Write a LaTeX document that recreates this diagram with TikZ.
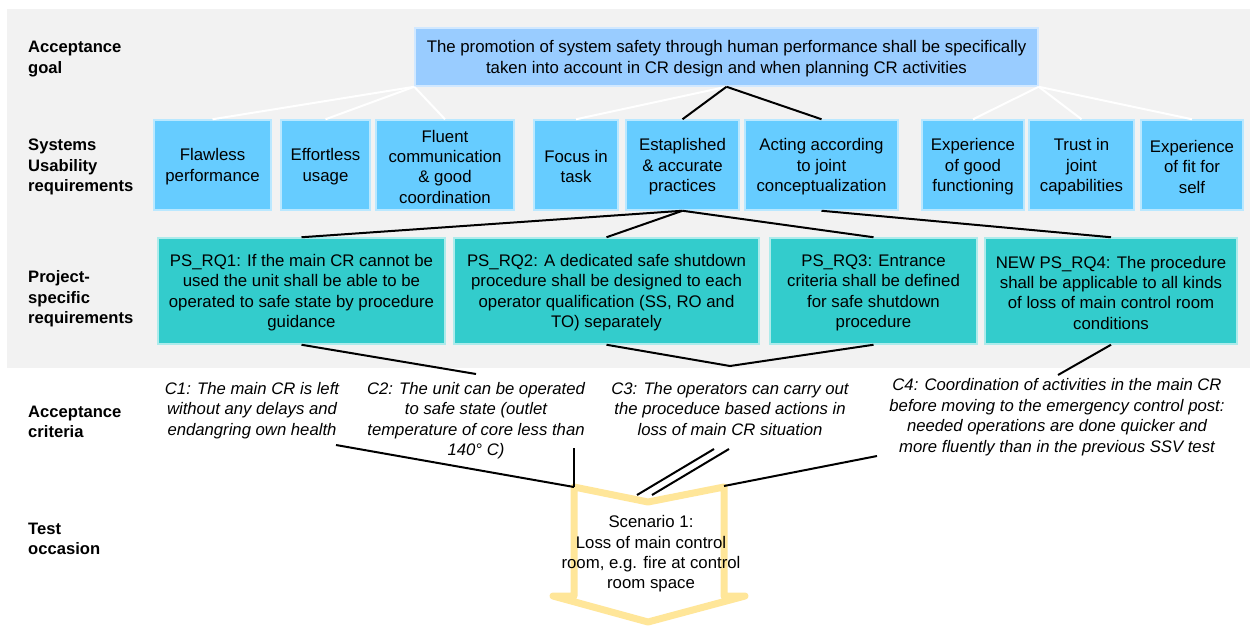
\documentclass[tikz,border=0pt]{standalone}
\usepackage{fontspec}
\setmainfont{Liberation Sans}
\usetikzlibrary{calc}

\definecolor{panel}{HTML}{F2F2F2}
\definecolor{goalfill}{HTML}{99CCFF}
\definecolor{usefill}{HTML}{66CCFF}
\definecolor{psfill}{HTML}{33CCCC}
\definecolor{scenario}{HTML}{FFE699}

\tikzset{
  txt/.style={font=\fontsize{16.8}{20.3}\selectfont, align=center, inner sep=0pt},
  lbl/.style={font=\fontsize{16.6}{20.3}\selectfont\bfseries, align=left, inner sep=0pt, anchor=west, yshift=-2pt},
  crit/.style={font=\fontsize{16.7}{20.5}\selectfont\itshape, align=center, inner sep=2pt},
  goalbox/.style={fill=goalfill, draw=white!55!goalfill, line width=1.5pt, inner sep=0pt},
  usebox/.style={fill=usefill, draw=white!55!usefill, line width=1.5pt, inner sep=0pt},
  psbox/.style={fill=psfill, draw=white!60!psfill, line width=1.5pt, inner sep=0pt},
  wline/.style={draw=white, line width=2pt},
  bline/.style={draw=black, line width=2pt},
  chevron/.style={draw=scenario, line width=7pt, line join=round, line cap=round},
}

% box given by its corners, with its text set on top: name, style, x1, y1, x2, y2, text
\newcommand\cornerbox[7]{%
  \node[#2, minimum width={(#5-#3)*1pt}, minimum height={(#6-#4)*1pt}]
    (#1) at ({(#3+#5)/2},{(#4+#6)/2}) {};
  \node[txt, yshift=-1.8pt] (#1-t) at (#1.center) {#7};}

\begin{document}
\begin{tikzpicture}[x=1pt,y=-1pt]
\useasboundingbox (0,0) rectangle (1250,629);
\fill[white] (0,0) rectangle (1250,629);

% shaded panel behind the upper three levels
\fill[panel] (7,9) rectangle (1250,368);

% row labels
\node[lbl] (lgoal) at (28,57) {Acceptance\\goal};
\node[lbl] (luse) at (28,165) {Systems\\Usability\\requirements};
\node[lbl] (lps) at (28,297) {Project-\\specific\\requirements};
\node[lbl] (lcrit) at (28,420) {Acceptance\\criteria};
\node[lbl] (ltest) at (28,537) {Test\\occasion};

% acceptance goal
\cornerbox{goal}{goalbox}{415}{28}{1038}{86}{The promotion of system safety through human performance shall be specifically\\taken into account in CR design and when planning CR activities}

% systems usability requirements
\cornerbox{flaw}{usebox}{154}{120}{271}{210}{Flawless\\performance}
\cornerbox{effort}{usebox}{281}{120}{370}{210}{Effortless\\usage}
\cornerbox{fluent}{usebox}{376}{120}{514}{210}{Fluent\\communication\\\& good\\coordination}
\cornerbox{focus}{usebox}{534}{120}{618}{210}{Focus in\\task}
\cornerbox{estab}{usebox}{626}{120}{739}{210}{Estaplished\\\& accurate\\practices}
\cornerbox{acting}{usebox}{745}{120}{898}{210}{Acting according\\to joint\\conceptualization}
\cornerbox{expgood}{usebox}{922}{120}{1024}{210}{Experience\\of good\\functioning}
\cornerbox{trust}{usebox}{1029}{120}{1134}{210}{Trust in\\joint\\capabilities}
\cornerbox{expfit}{usebox}{1141}{120}{1243}{210}{Experience\\of fit for\\self}

% project-specific requirements
\cornerbox{rq1}{psbox}{158}{238}{445}{344}{PS\_RQ1: If the main CR cannot be\\used the unit shall be able to be\\operated to safe state by procedure\\guidance}
\cornerbox{rq2}{psbox}{454}{238}{759}{344}{PS\_RQ2: A dedicated safe shutdown\\procedure shall be designed to each\\operator qualification (SS, RO and\\TO) separately}
\cornerbox{rq3}{psbox}{770}{238}{977}{344}{PS\_RQ3: Entrance\\criteria shall be defined\\for safe shutdown\\procedure}
\cornerbox{rq4}{psbox}{985}{238}{1237}{344}{NEW PS\_RQ4: The procedure\\shall be applicable to all kinds\\of loss of main control room\\conditions}

% goal to usability requirements
\draw[wline] (goal.south west) -- (flaw.north);
\draw[wline] (goal.south west) -- (effort.north);
\draw[wline] (goal.south west) -- (fluent.north);
\draw[wline] (goal.south) -- (focus.north);
\draw[bline] (goal.south) -- (estab.north);
\draw[bline] (goal.south) -- (acting.north);
\draw[wline] (goal.south east) -- (expgood.north);
\draw[wline] (goal.south east) -- (trust.north);
\draw[wline] (goal.south east) -- (expfit.north);

% usability requirements to project-specific requirements
\draw[bline] (estab.south) -- (rq1.north);
\draw[bline] (estab.south) -- (rq2.north);
\draw[bline] (estab.south) -- (rq3.north);
\draw[bline] (acting.south) -- (rq4.north);

% acceptance criteria
\node[crit] (c1) at (252,410.5) {C1: The main CR is left\\without any delays and\\endangring own health};
\node[crit] (c2) at (476,420.5) {C2: The unit can be operated\\to safe state (outlet\\temperature of core less than\\140° C)};
\node[crit] (c3) at (730,409) {C3: The operators can carry out\\the proceduce based actions in\\loss of main CR situation};
\node[crit] (c4) at (1057,417) {C4: Coordination of activities in the main CR\\before moving to the emergency control post:\\needed operations are done quicker and\\more fluently than in the previous SSV test};

% test occasion
\coordinate (chevTL) at (574,487);
\coordinate (chevNotch) at (648,502);
\coordinate (chevTR) at (724,487);
\draw[chevron] (chevTL) -- (chevNotch) -- (chevTR) -- (724,596) -- (745,596)
  -- (648,622) -- (553,596) -- (574,596) -- cycle;
\node[txt] (scen) at (651,554) {Scenario 1:\\Loss of main control\\room, e.g. fire at control\\room space};

% requirements to criteria
\coordinate (vtip) at (730,366);
\coordinate (c2top) at (476,374);
\coordinate (c4top) at (1058,375);
\draw[bline] (rq1.south) -- (c2top);
\draw[bline] (rq2.south) -- (vtip) -- (rq3.south);
\draw[bline] (rq4.south) -- (c4top);

% criteria to the test occasion
\coordinate (c1end) at (336,445);
\coordinate (c2end) at (574,448);
\coordinate (c3endA) at (714,449);
\coordinate (c3endB) at (729,449);
\coordinate (c3tipA) at (637,495);
\coordinate (c3tipB) at (652,495);
\coordinate (c4end) at (877,456);
\coordinate (c4tip) at (724,486);
\draw[bline] (c1end) -- (chevTL);
\draw[bline] (c2end) -- (chevTL);
\draw[bline] (c3endA) -- (c3tipA);
\draw[bline] (c3endB) -- (c3tipB);
\draw[bline] (c4end) -- (c4tip);
\end{tikzpicture}
\end{document}
